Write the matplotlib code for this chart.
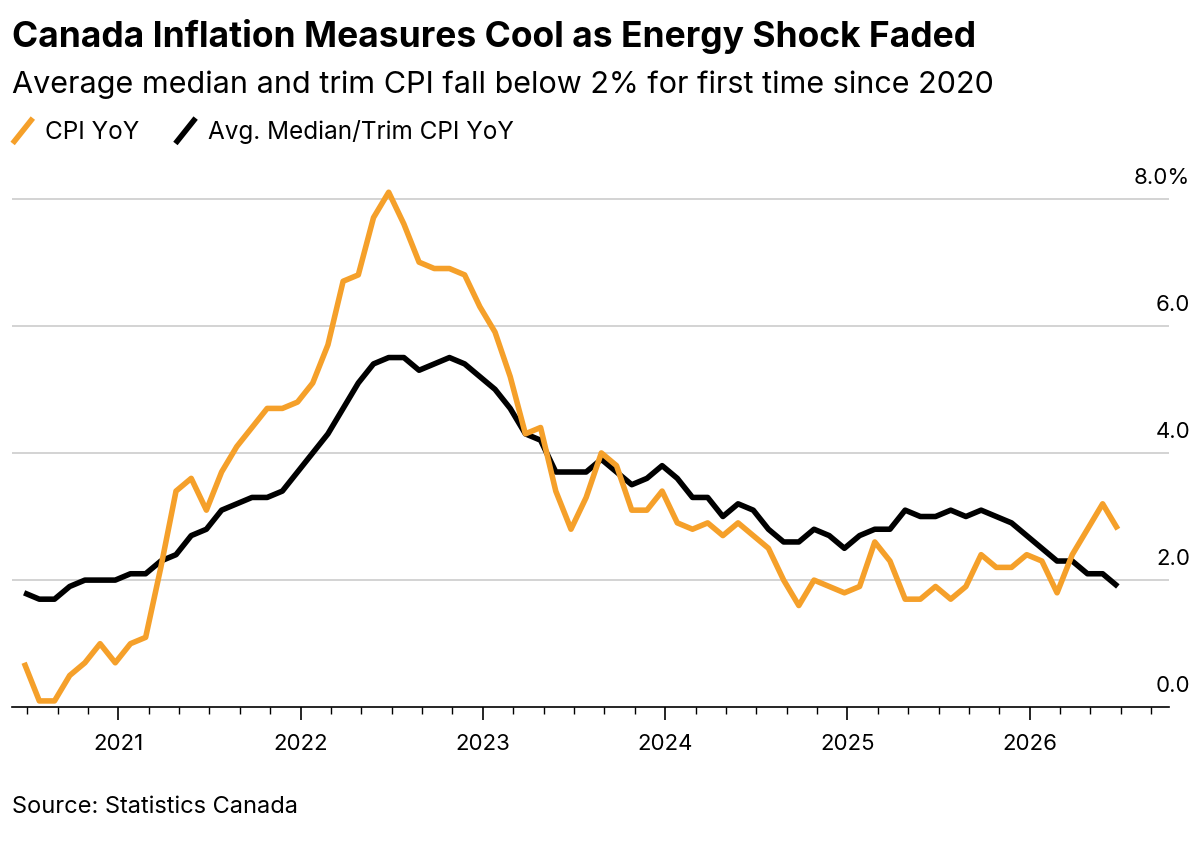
import matplotlib.pyplot as plt
from matplotlib.lines import Line2D
import numpy as np

plt.rcParams['font.family'] = ['Inter', 'DejaVu Sans']

# monthly, Jun 2020 - Jun 2026
cpi_yoy = [0.7, 0.1, 0.1, 0.5, 0.7, 1.0, 0.7,
           1.0, 1.1, 2.2, 3.4, 3.6, 3.1, 3.7, 4.1, 4.4, 4.7, 4.7, 4.8,
           5.1, 5.7, 6.7, 6.8, 7.7, 8.1, 7.6, 7.0, 6.9, 6.9, 6.8, 6.3,
           5.9, 5.2, 4.3, 4.4, 3.4, 2.8, 3.3, 4.0, 3.8, 3.1, 3.1, 3.4,
           2.9, 2.8, 2.9, 2.7, 2.9, 2.7, 2.5, 2.0, 1.6, 2.0, 1.9, 1.8,
           1.9, 2.6, 2.3, 1.7, 1.7, 1.9, 1.7, 1.9, 2.4, 2.2, 2.2, 2.4,
           2.3, 1.8, 2.4, 2.8, 3.2, 2.8]
core_yoy = [1.8, 1.7, 1.7, 1.9, 2.0, 2.0, 2.0,
            2.1, 2.1, 2.3, 2.4, 2.7, 2.8, 3.1, 3.2, 3.3, 3.3, 3.4,
            3.7, 4.0, 4.3, 4.7, 5.1, 5.4, 5.5, 5.5, 5.3, 5.4, 5.5, 5.4,
            5.2, 5.0, 4.7, 4.3, 4.2, 3.7, 3.7, 3.7, 3.9, 3.7, 3.5, 3.6,
            3.8, 3.6, 3.3, 3.3, 3.0, 3.2, 3.1, 2.8, 2.6, 2.6, 2.8, 2.7,
            2.5, 2.7, 2.8, 2.8, 3.1, 3.0, 3.0, 3.1, 3.0, 3.1, 3.0, 2.9,
            2.7, 2.5, 2.3, 2.3, 2.1, 2.1, 1.9]
years = ['2021', '2022', '2023', '2024', '2025', '2026']
y_ticks = [0, 2, 4, 6, 8]
y_labels = ['0.0', '2.0', '4.0', '6.0', '8.0%']

orange = '#f5a02a'
x = np.arange(len(cpi_yoy))

fig = plt.figure(figsize=(11.97, 8.41), dpi=100)
ax = fig.add_axes([0.010, 0.159, 0.967, 0.620])

for yt in y_ticks[1:]:
    ax.axhline(yt, color='#cccccc', linewidth=1.2, zorder=0)
ax.plot(x, core_yoy, color='black', linewidth=4, solid_capstyle='butt', zorder=2)
ax.plot(x, cpi_yoy, color=orange, linewidth=4, solid_capstyle='butt', zorder=3)

ax.set_xlim(-0.8, 75.4)
ax.set_ylim(0, 8.2)
ax.set_yticks([])
for yt, lab in zip(y_ticks, y_labels):
    ax.text(1.018, yt + 0.17, lab, transform=ax.get_yaxis_transform(),
            ha='right', va='bottom', fontsize=16)

ax.set_xticks([6.2 + 12 * k for k in range(len(years))])
ax.set_xticklabels(years, fontsize=16)
ax.set_xticks(np.arange(0.2, 75, 2), minor=True)
ax.tick_params(axis='x', which='major', length=9, width=1.2, pad=10)
ax.tick_params(axis='x', which='minor', length=5, width=1)
for s in ['top', 'right', 'left']:
    ax.spines[s].set_visible(False)
ax.spines['bottom'].set_linewidth(1.2)

fig.text(0.010, 0.944, 'Canada Inflation Measures Cool as Energy Shock Faded',
         fontsize=25.5, fontweight='bold')
fig.text(0.010, 0.889, 'Average median and trim CPI fall below 2% for first time since 2020',
         fontsize=22)
fig.add_artist(Line2D([0.012, 0.026], [0.832, 0.857], color=orange, linewidth=4))
fig.text(0.038, 0.835, 'CPI YoY', fontsize=17.5)
fig.add_artist(Line2D([0.148, 0.162], [0.832, 0.857], color='black', linewidth=4))
fig.text(0.174, 0.835, 'Avg. Median/Trim CPI YoY', fontsize=17.5)
fig.text(0.010, 0.033, 'Source: Statistics Canada', fontsize=17)

fig.savefig('out.png', dpi=100)
